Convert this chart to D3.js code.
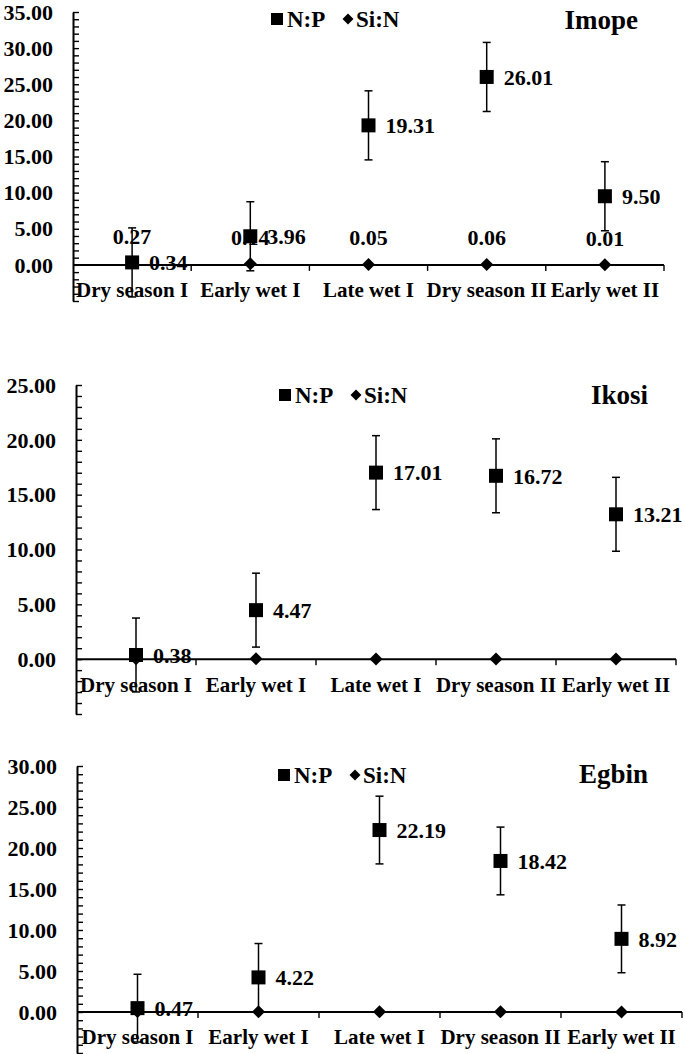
<!DOCTYPE html>
<html>
<head>
<meta charset="utf-8">
<script src="https://cdnjs.cloudflare.com/ajax/libs/d3/7.8.5/d3.min.js"></script>
<style>
  body { margin: 0; background: #fff; }
  svg text { font-family: "Liberation Serif", "Times New Roman", serif; font-weight: bold; fill: #000; }
</style>
</head>
<body>
<svg id="chart" width="685" height="1054"></svg>
<script>
/*** DATA ***/
var seasons = ['Dry season I', 'Early wet I', 'Late wet I', 'Dry season II', 'Early wet II'];
var sites = ['Imope', 'Ikosi', 'Egbin'];
var seriesNames = ['N:P', 'Si:N'];

//N:P ratio per season
var npImope = [0.34, 3.96, 19.31, 26.01, 9.50];
var npIkosi = [0.38, 4.47, 17.01, 16.72, 13.21];
var npEgbin = [0.47, 4.22, 22.19, 18.42, 8.92];

//error bars
var errImope = [4.78, 4.78, 4.78, 4.78, 4.78];
var errIkosi = [3.37, 3.37, 3.37, 3.37, 3.37];
var errEgbin = [4.13, 4.13, 4.13, 4.13, 4.13];

//Si:N ratio per season (labels only shown for Imope)
var snImope = [0.27, 0.14, 0.05, 0.06, 0.01];
var snIkosi = [0.04, 0.03, 0.02, 0.02, 0.01];
var snEgbin = [0.05, 0.03, 0.02, 0.02, 0.01];

//y axis max per site
var yMaxList = [35, 25, 30];

/*** LAYOUT ***/
var frames = [
  {x0: 73, x1: 664, top: 12,  bottom: 301,  legendX: 277, legendY: 19,  titleX: 638, titleY: 29},
  {x0: 76, x1: 676, top: 385, bottom: 714,  legendX: 285, legendY: 395, titleX: 648, titleY: 404},
  {x0: 77, x1: 682, top: 766, bottom: 1053, legendX: 284, legendY: 775, titleX: 648, titleY: 783}
];
var npList = [npImope, npIkosi, npEgbin];
var errList = [errImope, errIkosi, errEgbin];
var snList = [snImope, snIkosi, snEgbin];
var snLabelShown = [true, false, false];

var svg = d3.select('#chart');
var fmt = d3.format('.2f');
var diamondPath = 'M0,-6.5L6.5,0L0,6.5L-6.5,0Z';

function drawPanel(i) {
  var f = frames[i];
  var np = npList[i], err = errList[i], sn = snList[i];
  var x = d3.scaleBand().domain(seasons).range([f.x0, f.x1]);
  var y = d3.scaleLinear().domain([-5, yMaxList[i]]).range([f.bottom, f.top]);
  var y0 = y(0);
  var cx = function(j) { return x(seasons[j]) + x.bandwidth() / 2; };

  var g = svg.append('g').attr('class', 'panel');

  //y axis with minor ticks every 1 unit
  var yAxis = d3.axisRight(y)
    .tickValues(d3.range(-5, yMaxList[i] + 1, 1))
    .tickSize(6)
    .tickSizeOuter(0)
    .tickFormat('');
  var ya = g.append('g')
    .attr('transform', 'translate(' + f.x0 + ',0)')
    .call(yAxis);
  ya.select('.domain').attr('stroke', '#000').attr('stroke-width', 2);
  ya.selectAll('.tick line').attr('stroke', '#000').attr('stroke-width', 1.4);

  //y labels (non-negative only)
  g.selectAll('.ylab')
    .data(d3.range(0, yMaxList[i] + 1, 5))
    .enter().append('text')
    .attr('class', 'ylab')
    .attr('x', f.x0 - 20)
    .attr('y', function(d) { return y(d); })
    .attr('dy', '0.35em')
    .attr('text-anchor', 'end')
    .style('font-size', '22px')
    .text(fmt);

  //x axis at zero
  g.append('line')
    .attr('x1', f.x0).attr('x2', f.x1)
    .attr('y1', y0).attr('y2', y0)
    .attr('stroke', '#000').attr('stroke-width', 2);
  var bounds = seasons.map(function(s) { return x(s); }).concat([f.x1]);
  g.selectAll('.xtick')
    .data(bounds.slice(1))
    .enter().append('line')
    .attr('x1', function(d) { return d; }).attr('x2', function(d) { return d; })
    .attr('y1', y0).attr('y2', y0 + 6)
    .attr('stroke', '#000').attr('stroke-width', 1.4);

  g.selectAll('.xlab')
    .data(seasons)
    .enter().append('text')
    .attr('class', 'xlab')
    .attr('x', function(d) { return x(d) + x.bandwidth() / 2; })
    .attr('y', y0 + 25)
    .attr('dy', '0.35em')
    .attr('text-anchor', 'middle')
    .style('font-size', '21px')
    .text(function(d) { return d; });

  //Si:N diamonds
  g.selectAll('.sn')
    .data(sn)
    .enter().append('path')
    .attr('d', diamondPath)
    .attr('transform', function(d, j) { return 'translate(' + cx(j) + ',' + y(d) + ')'; })
    .attr('fill', '#000');

  //N:P error bars
  var eb = g.selectAll('.eb')
    .data(np)
    .enter().append('g')
    .attr('class', 'eb');
  eb.append('line')
    .attr('x1', function(d, j) { return cx(j); }).attr('x2', function(d, j) { return cx(j); })
    .attr('y1', function(d, j) { return y(d - err[j]); })
    .attr('y2', function(d, j) { return y(d + err[j]); });
  eb.append('line')
    .attr('x1', function(d, j) { return cx(j) - 4; }).attr('x2', function(d, j) { return cx(j) + 4; })
    .attr('y1', function(d, j) { return y(d + err[j]); })
    .attr('y2', function(d, j) { return y(d + err[j]); });
  eb.append('line')
    .attr('x1', function(d, j) { return cx(j) - 4; }).attr('x2', function(d, j) { return cx(j) + 4; })
    .attr('y1', function(d, j) { return y(d - err[j]); })
    .attr('y2', function(d, j) { return y(d - err[j]); });
  eb.selectAll('line').attr('stroke', '#000').attr('stroke-width', 1.5);

  //N:P squares
  g.selectAll('.np')
    .data(np)
    .enter().append('rect')
    .attr('x', function(d, j) { return cx(j) - 7; })
    .attr('y', function(d) { return y(d) - 7; })
    .attr('width', 14).attr('height', 14)
    .attr('fill', '#000');

  //N:P labels (right)
  g.selectAll('.nplab')
    .data(np)
    .enter().append('text')
    .attr('x', function(d, j) { return cx(j) + 17; })
    .attr('y', function(d) { return y(d); })
    .attr('dy', '0.35em')
    .style('font-size', '22px')
    .text(fmt);

  //Si:N labels (above)
  if (snLabelShown[i]) {
    g.selectAll('.snlab')
      .data(sn)
      .enter().append('text')
      .attr('x', function(d, j) { return cx(j); })
      .attr('y', function(d) { return y(d) - 27; })
      .attr('dy', '0.35em')
      .attr('text-anchor', 'middle')
      .style('font-size', '22px')
      .text(fmt);
  }

  //legend
  var lg = g.append('g').attr('transform', 'translate(' + f.legendX + ',' + f.legendY + ')');
  lg.append('rect').attr('x', -6).attr('y', -6).attr('width', 12).attr('height', 12).attr('fill', '#000');
  lg.append('text').attr('x', 10).attr('dy', '0.35em').style('font-size', '23px').text(seriesNames[0]);
  lg.append('path').attr('d', 'M0,-5.5L5.5,0L0,5.5L-5.5,0Z').attr('transform', 'translate(71,0)').attr('fill', '#000');
  lg.append('text').attr('x', 79).attr('dy', '0.35em').style('font-size', '23px').text(seriesNames[1]);

  //site title
  g.append('text')
    .attr('x', f.titleX)
    .attr('y', f.titleY)
    .attr('text-anchor', 'end')
    .style('font-size', '27px')
    .text(sites[i]);
}

sites.forEach(function(s, i) { drawPanel(i); });
</script>
</body>
</html>
